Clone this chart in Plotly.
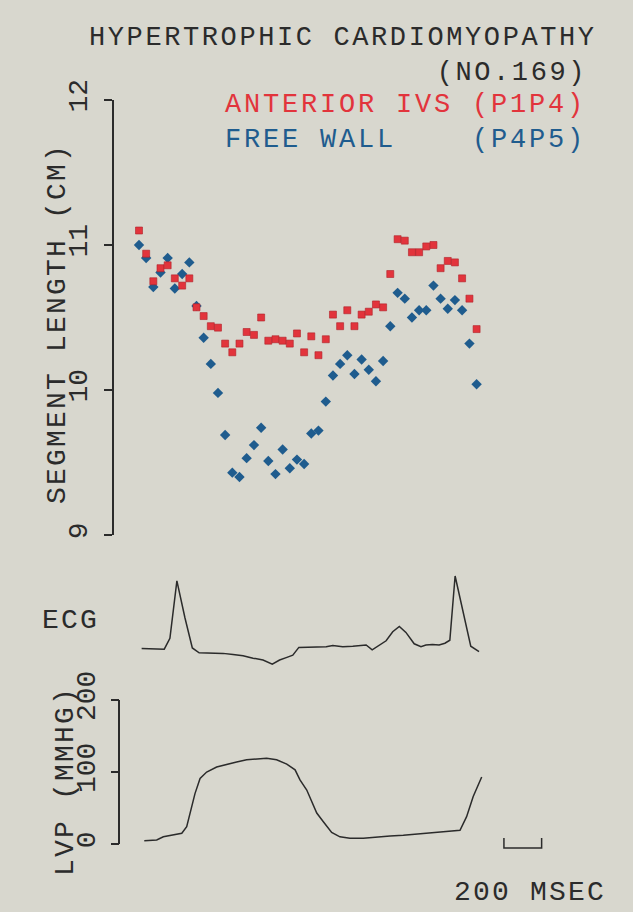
import plotly.graph_objects as go

# ---------------- data ----------------
frame_ms = [0, 38, 76, 114, 152, 190, 229, 267, 305, 343, 381, 419, 457, 495, 533, 571,
            610, 648, 686, 724, 762, 800, 838, 876, 914, 952, 991, 1029, 1067, 1105, 1143, 1181,
            1219, 1257, 1295, 1333, 1372, 1410, 1448, 1486, 1524, 1562, 1600, 1638, 1676, 1714,
            1753, 1791]

anterior_ivs_cm = [11.10, 10.94, 10.75, 10.84, 10.86, 10.77, 10.72, 10.77, 10.57, 10.51,
                   10.44, 10.43, 10.32, 10.26, 10.32, 10.40, 10.38, 10.50, 10.34, 10.35,
                   10.34, 10.32, 10.39, 10.26, 10.37, 10.24, 10.35, 10.52, 10.44, 10.55,
                   10.44, 10.52, 10.54, 10.59, 10.57, 10.80, 11.04, 11.03, 10.95, 10.95,
                   10.99, 11.00, 10.84, 10.89, 10.88, 10.77, 10.63, 10.42]

free_wall_cm = [11.00, 10.91, 10.71, 10.81, 10.91, 10.70, 10.80, 10.88, 10.58, 10.36,
                10.18, 9.98, 9.69, 9.43, 9.40, 9.53, 9.62, 9.74, 9.51, 9.42,
                9.59, 9.46, 9.52, 9.49, 9.70, 9.72, 9.92, 10.10, 10.18, 10.24,
                10.11, 10.21, 10.14, 10.06, 10.20, 10.44, 10.67, 10.63, 10.50, 10.55,
                10.55, 10.72, 10.63, 10.56, 10.62, 10.55, 10.32, 10.04]

ecg_ms = [14, 134, 164, 201, 244, 283, 319, 376, 446, 499, 552, 605, 658, 707, 746, 781,
          816, 848, 887, 940, 993, 1028, 1081, 1134, 1205, 1237, 1275, 1311, 1346, 1381,
          1416, 1460, 1496, 1522, 1557, 1592, 1623, 1649, 1677, 1716, 1760, 1804]
ecg_mv = [-0.01, -0.02, 0.16, 1.12, 0.50, 0.00, -0.08, -0.08, -0.09, -0.11, -0.13, -0.17,
          -0.20, -0.27, -0.20, -0.16, -0.12, 0.01, 0.01, 0.01, 0.02, 0.04, 0.02, 0.03, 0.05,
          -0.03, 0.04, 0.12, 0.27, 0.36, 0.26, 0.07, 0.02, 0.05, 0.06, 0.05, 0.08, 0.13,
          1.20, 0.63, 0.03, -0.06]

lvp_ms = [28, 94, 129, 182, 227, 253, 271, 297, 324, 359, 412, 465, 518, 571, 624, 677,
          730, 784, 828, 854, 890, 943, 978, 1022, 1066, 1119, 1190, 1261, 1332, 1402, 1473,
          1544, 1614, 1703, 1738, 1773, 1818]
lvp_mmhg = [4.6, 5.6, 10, 13, 15, 24, 43, 70, 91, 100, 107, 111, 114, 117, 118, 119,
            117, 111, 103, 89, 75, 43, 31, 16, 10, 8, 8, 10, 11, 12, 14, 16, 17, 19, 38, 66, 93]

seg_ticks = [9, 10, 11, 12]
lvp_ticks = [0, 100, 200]
scale_bar_ms = 200
scale_bar_start_ms = 1936

# ---------------- style ----------------
FONT = "Liberation Mono"
INK = "#2b2b2b"
RED = "#e2343c"
BLUE = "#1f5c8e"
BG = "#d8d7ce"

def spaced(s, color=None, ls=2.2):
    style = f"letter-spacing:{ls}px" + (f";color:{color}" if color else "")
    return f"<span style='{style}'>{s}</span>"

fig = go.Figure()

fig.add_trace(go.Scatter(x=frame_ms, y=free_wall_cm, mode="markers", yaxis="y",
                         marker=dict(symbol="diamond", size=8, color=BLUE,
                                     line=dict(width=0))))
fig.add_trace(go.Scatter(x=frame_ms, y=anterior_ivs_cm, mode="markers", yaxis="y",
                         marker=dict(symbol="square", size=7, color=RED,
                                     line=dict(width=0.6, color="#b02028"))))
fig.add_trace(go.Scatter(x=ecg_ms, y=ecg_mv, mode="lines", yaxis="y2",
                         line=dict(color=INK, width=1.5)))
fig.add_trace(go.Scatter(x=lvp_ms, y=lvp_mmhg, mode="lines", yaxis="y3",
                         line=dict(color=INK, width=1.5)))

# scale bar (200 msec)
fig.add_shape(type="path", xref="x", yref="paper",
              path=(f"M {scale_bar_start_ms} {1-838/912} L {scale_bar_start_ms} {1-848/912} "
                    f"L {scale_bar_start_ms+scale_bar_ms} {1-848/912} "
                    f"L {scale_bar_start_ms+scale_bar_ms} {1-838/912}"),
              line=dict(color=INK, width=1.5))

axis_common = dict(showgrid=False, zeroline=False, showline=True, linecolor=INK,
                   linewidth=1.5, ticks="outside", ticklen=8, tickwidth=1.5,
                   tickcolor=INK, tickangle=-90, anchor="free", automargin=False,
                   tickfont=dict(family=FONT, size=28, color=INK))

fig.update_layout(
    width=633, height=912,
    margin=dict(l=0, r=0, t=0, b=0, autoexpand=False),
    paper_bgcolor=BG, plot_bgcolor="rgba(0,0,0,0)",
    showlegend=False,
    xaxis=dict(domain=[0, 1], range=[-737.4, 2620.7], visible=False, anchor="y3",
               automargin=False),
    yaxis=dict(domain=[1-535/912, 1-100/912], range=[9, 12], tickvals=seg_ticks,
               position=113/633, ticklabelstandoff=6, **axis_common),
    yaxis2=dict(domain=[1-670/912, 1-570/912], range=[-0.367, 1.3], visible=False,
                anchor="x", automargin=False),
    yaxis3=dict(domain=[1-844/912, 1-700/912], range=[0, 200], tickvals=lvp_ticks,
                position=119.3/633, ticklabelstandoff=4, **axis_common),
)

def txt(text, x, y, xanchor="center", angle=0, size=28, align="center"):
    fig.add_annotation(text=text, x=x, y=y, xref="paper", yref="paper",
                       xanchor=xanchor, yanchor="middle", showarrow=False, align=align,
                       textangle=angle, font=dict(family=FONT, size=size, color=INK))

txt(spaced("HYPERTROPHIC CARDIOMYOPATHY", ls=2.6) + "<br>" + spaced("(NO.169)", ls=2.6)
    + "<span style='font-size:16px'>\u00a0</span>",
    599/633, 1-55/912, xanchor="right", align="right", size=27)
txt(spaced("ANTERIOR IVS (P1P4)", RED, ls=2.8) + "<br>"
    + spaced("FREE WALL\u00a0\u00a0\u00a0\u00a0(P4P5)", BLUE, ls=2.8),
    588/633, 1-122/912, xanchor="right", align="right", size=27)
txt(spaced("SEGMENT LENGTH (CM)"), 57/633, 1-324/912, angle=-90)
txt(spaced("ECG"), 70/633, 1-620/912)
txt(spaced("LVP (MMHG)"), 65/633, 1-781/912, angle=-90)
txt(spaced("200 MSEC"), 530/633, 1-892/912)

fig.write_html("out.html", config={"displayModeBar": False},
               post_script="document.body.style.margin='0';document.body.style.overflow='hidden';")
